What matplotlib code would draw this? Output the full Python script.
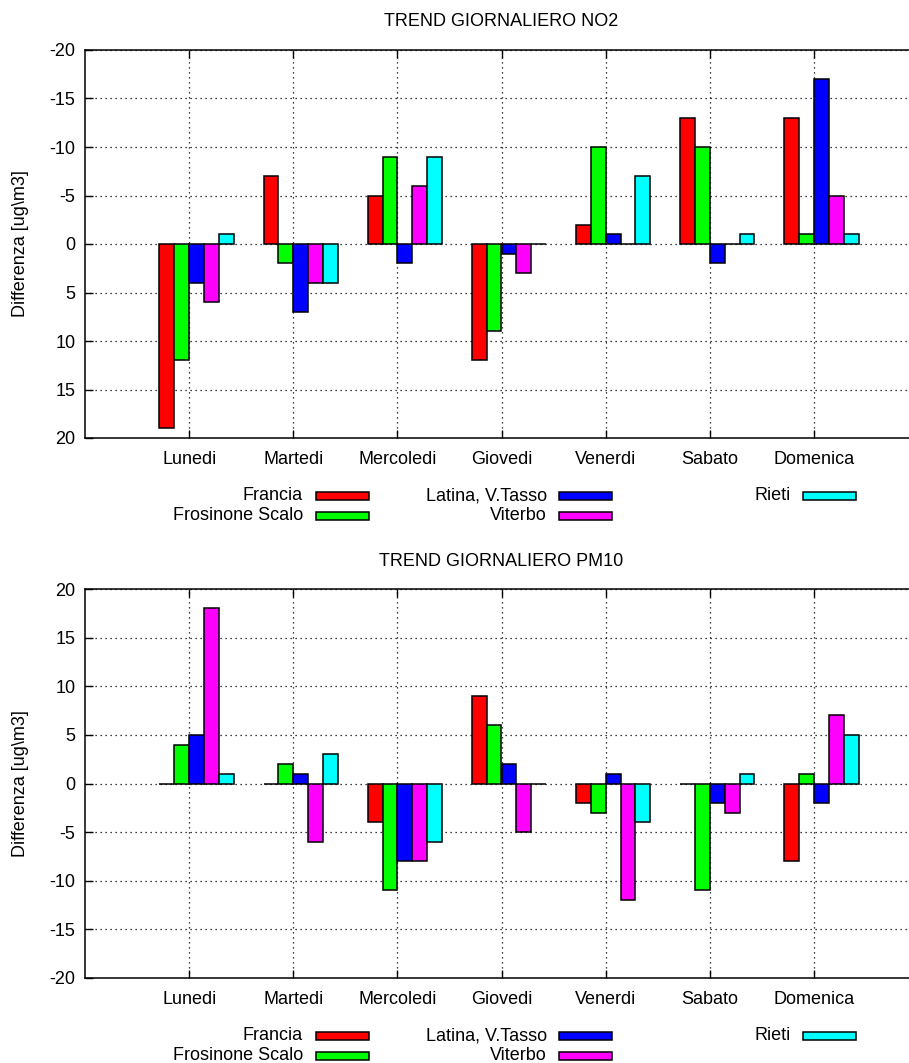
import numpy as np
import matplotlib
matplotlib.use("Agg")
import matplotlib.pyplot as plt
from matplotlib.patches import Rectangle

days = ['Lunedi', 'Martedi', 'Mercoledi', 'Giovedi', 'Venerdi', 'Sabato', 'Domenica']
stations = ['Francia', 'Frosinone Scalo', 'Latina, V.Tasso', 'Viterbo', 'Rieti']
colors = ['#ff0000', '#00ff00', '#0000ff', '#ff00ff', '#00ffff']

# NO2 differences per station (one value per weekday)
no2_francia = [19, -7, -5, 12, -2, -13, -13]
no2_frosinone = [12, 2, -9, 9, -10, -10, -1]
no2_latina = [4, 7, 2, 1, -1, 2, -17]
no2_viterbo = [6, 4, -6, 3, 0, 0, -5]
no2_rieti = [-1, 4, -9, 0, -7, -1, -1]

# PM10 differences per station
pm10_francia = [0, 0, -4, 9, -2, 0, -8]
pm10_frosinone = [4, 2, -11, 6, -3, -11, 1]
pm10_latina = [5, 1, -8, 2, 1, -2, -2]
pm10_viterbo = [18, -6, -8, -5, -12, -3, 7]
pm10_rieti = [1, 3, -6, 0, -4, 1, 5]

yticks = [-20, -15, -10, -5, 0, 5, 10, 15, 20]

plt.rcParams['font.family'] = ['Liberation Sans', 'DejaVu Sans']
plt.rcParams['font.size'] = 13
plt.rcParams['axes.unicode_minus'] = False

W, H = 909, 1063
fig = plt.figure(figsize=(W / 100, H / 100), dpi=100)


def px(x, y):
    return x / W, 1 - y / H


def draw_panel(top, bottom, title, series, invert):
    l, b = px(85, bottom)
    r, t = px(918, top)
    ax = fig.add_axes([l, b, r - l, t - b])
    x = np.arange(len(days))
    w = 1.0 / 7
    for j, vals in enumerate(series):
        ax.bar(x + (j - 1.5) * w, vals, width=w, color=colors[j],
               edgecolor='black', linewidth=1.1, zorder=3)
    ax.set_xlim(-1, 7)
    if invert:
        ax.set_ylim(20, -20)
    else:
        ax.set_ylim(-20, 20)
    ax.set_yticks(yticks)
    ax.set_xticks(x)
    ax.set_xticklabels(days)
    ax.grid(True, color='black', linestyle=(0, (1, 3)), linewidth=0.9, zorder=0)
    ax.set_axisbelow(True)
    ax.tick_params(axis='both', direction='in', length=6, width=1,
                   top=True, right=False)
    ax.tick_params(axis='y', pad=7)
    ax.tick_params(axis='x', pad=9)
    for s in ax.spines.values():
        s.set_linewidth(1.1)
    ax.spines['right'].set_visible(False)
    ax.set_ylabel('Differenza [ug\\m3]')
    ax.yaxis.set_label_coords(-56 / (918 - 85), 0.5)
    fig.text(501 / W, 1 - (top - 28) / H, title, ha='center', va='center')

    # legend below the panel, gnuplot style (text right-aligned, then sample)
    cols = [(303, 316), (547, 559), (791, 803)]
    slots = [(0, 0), (0, 1), (1, 0), (1, 1), (2, 0)]
    for j, name in enumerate(stations):
        c, rrow = slots[j]
        tx, bx = cols[c]
        yc = bottom + 58 + rrow * 20
        fx, fy = px(tx, yc)
        fig.text(fx, fy, name, ha='right', va='center')
        rx, ry = px(bx, yc + 4)
        fig.patches.append(Rectangle((rx, ry), 53 / W, 8 / H, transform=fig.transFigure,
                                     facecolor=colors[j], edgecolor='black',
                                     linewidth=1.1, figure=fig))
    return ax


draw_panel(50, 438, 'TREND GIORNALIERO NO2',
           [no2_francia, no2_frosinone, no2_latina, no2_viterbo, no2_rieti], True)
draw_panel(589, 978, 'TREND GIORNALIERO PM10',
           [pm10_francia, pm10_frosinone, pm10_latina, pm10_viterbo, pm10_rieti], False)

fig.savefig('out.png', dpi=100)
